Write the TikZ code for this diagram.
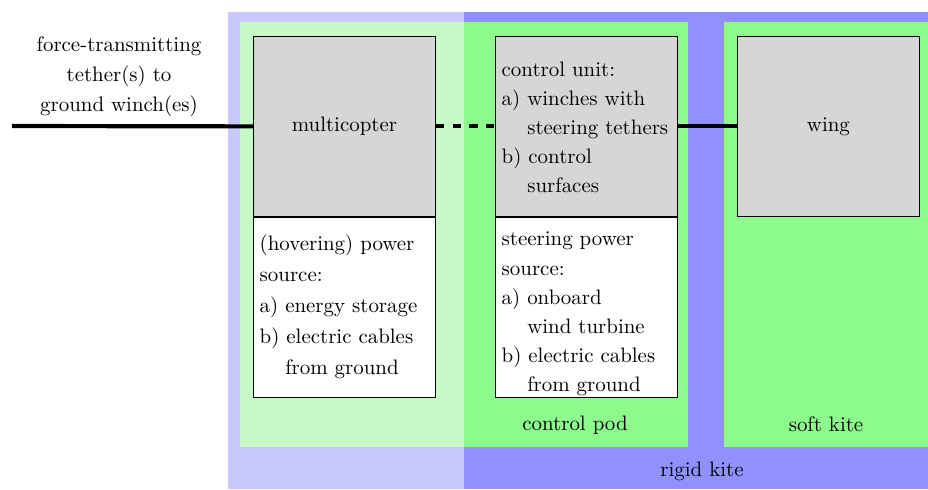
\documentclass[tikz,border=0pt]{standalone}
\usepackage{tikz}
\usetikzlibrary{positioning}
\definecolor{rigidbg}{RGB}{200,200,255}
\definecolor{rigidkite}{RGB}{144,144,255}
\definecolor{copterbg}{RGB}{200,250,200}
\definecolor{podbg}{RGB}{140,250,140}
\definecolor{partgray}{RGB}{214,214,214}
\tikzset{
  part/.style={draw, fill=partgray, text width=81pt, inner xsep=3pt, minimum height=86pt,
    align=left, anchor=north west, font=\fontsize{10}{13.9}\selectfont},
  supply/.style={part, fill=white},
  tether/.style={line width=2pt},
  label/.style={font=\fontsize{10}{13.9}\selectfont, align=center}
}
\newcommand{\hang}{\phantom{a) }}
\begin{document}
\begin{tikzpicture}[x=0.478pt, y=-0.478pt]
  \useasboundingbox (0,0) rectangle (928,489);
  % kite areas
  \fill [rigidbg] (228,12) rectangle (464,489);
  \fill [rigidkite] (464,12) rectangle (928,489);
  \fill [copterbg] (240,22) rectangle (464,447);
  \fill [podbg] (464,22) rectangle (688,447);
  \fill [podbg] (724,22) rectangle (928,447);
  \node [label] (podlabel) at (575,425) {control pod};
  \node [label] (softlabel) at (826,424) {soft kite};
  \node [label] (rigidlabel) at (702,471) {rigid kite};
  % components
  \node [part, align=center] (copter) at (253,36) {multicopter};
  \node [supply, below=0pt of copter, font=\fontsize{10}{14.8}\selectfont] (coptersource) {(hovering) power\\source:\\a) energy storage\\b) electric cables\\\hang from ground};
  \node [part] (control) at (495,36) {\rule{0pt}{10.5pt}control unit:\\a) winches with\\\hang steering tethers\\b) control\\\hang surfaces};
  \node [supply, below=0pt of control, inner ysep=0pt] (steersource) {\rule{0pt}{13.5pt}steering power\\source:\\a) onboard\\\hang wind turbine\\b) electric cables\\\hang from ground};
  \node [part, align=center] (wing) at (737,36) {wing};
  % tethers
  \node [label, font=\fontsize{10}{14.4}\selectfont] (groundlabel) at (119,77) {force-transmitting\\tether(s) to\\ground winch(es)};
  \coordinate (ground) at (12,126);
  \draw [tether] (ground) -- (copter.west);
  \draw [tether, dash pattern=on 4pt off 4pt] (copter.east) -- (control.west);
  \draw [tether] (control.east) -- (wing.west);
\end{tikzpicture}
\end{document}
